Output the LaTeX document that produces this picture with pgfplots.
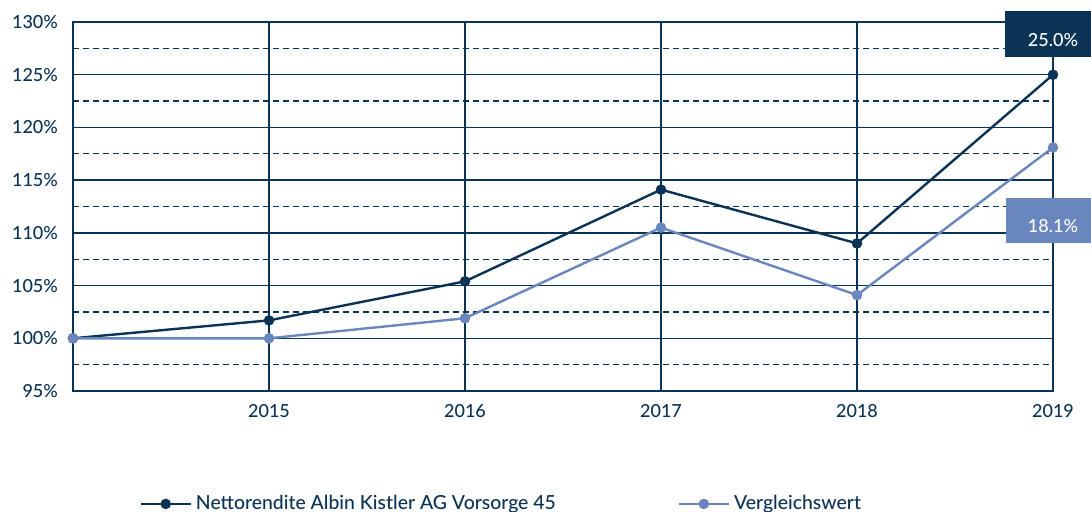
\documentclass[border=0pt]{standalone}
\usepackage{pgfplots}
\pgfplotsset{compat=1.18}
\usepackage{fontspec}
\setmainfont{Lato}[UprightFont={* Medium}]
\definecolor{navy}{HTML}{0B3356}
\definecolor{lblue}{HTML}{6A86BF}
\begin{document}
\begin{tikzpicture}
\useasboundingbox (-36.5pt,-60pt) rectangle (509pt,195.5pt);
\begin{axis}[
  at={(0,0)}, anchor=south west,
  scale only axis, width=490pt, height=184.5pt,
  xmin=2014, xmax=2019, ymin=95, ymax=130,
  xtick={2015,2016,2017,2018,2019},
  ytick={95,100,...,130},
  minor ytick={97.5,102.5,...,127.5},
  xticklabel style={/pgf/number format/1000 sep={}},
  yticklabel={\pgfmathprintnumber{\tick}\%},
  /pgf/number format/assume math mode=true,
  tick label style={font=\fontsize{9}{10}\selectfont, text=navy},
  xtick style={draw=none}, ytick style={draw=none}, minor tick length=0pt,
  xticklabel style={yshift=-3pt},
  yticklabel style={xshift=-4pt},
  grid=both,
  major grid style={navy, line width=0.7pt},
  minor grid style={navy, line width=0.6pt, dash pattern=on 3pt off 2pt},
  axis line style={navy, line width=0.9pt},
  clip=false,
  legend columns=2,
  legend style={draw=none, fill=none, at={(0.438,-0.306)}, anchor=center,
    font=\fontsize{9.7}{10}\selectfont, text=navy,
    /tikz/every even column/.append style={column sep=59pt}},
  legend image code/.code={
    \draw[#1, mark=none] (0pt,0pt) -- (25pt,0pt);
    \fill[#1] (12.5pt,0pt) circle (2pt);
  },
]
\addplot[navy, line width=1.2pt, mark=*, mark size=2pt] coordinates {
  (2014,100) (2015,101.7) (2016,105.4) (2017,114.1) (2018,109.0) (2019,125.0)};
\addlegendentry{Nettorendite Albin Kistler AG Vorsorge 45}
\addplot[lblue, line width=1.2pt, mark=*, mark size=2pt] coordinates {
  (2014,100) (2015,100.0) (2016,101.9) (2017,110.5) (2018,104.1) (2019,118.1)};
\addlegendentry{Vergleichswert}
\fill[navy] (axis cs:2018.755,131.04) rectangle (axis cs:2019.3,126.68);
\node[anchor=base, text=white, font=\fontsize{9}{10}\selectfont] at (axis cs:2019.0,127.72) {25.0\%};
\fill[lblue] (axis cs:2018.76,113.30) rectangle (axis cs:2019.3,109.03);
\node[anchor=base, text=white, font=\fontsize{9}{10}\selectfont] at (axis cs:2019.0,110.08) {18.1\%};
\end{axis}
\end{tikzpicture}
\end{document}
